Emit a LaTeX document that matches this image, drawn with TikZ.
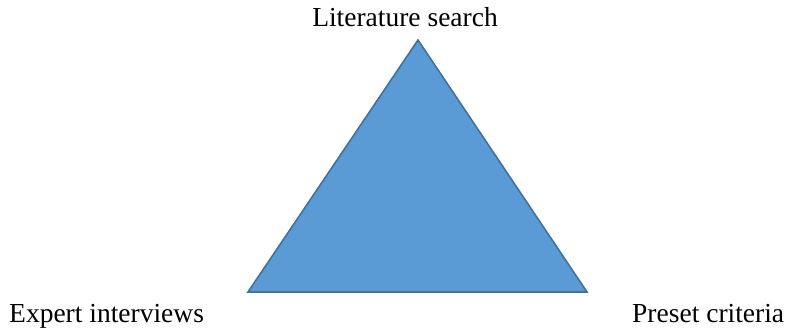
\documentclass[tikz,border=0pt]{standalone}
\usepackage{fontspec}
\setmainfont{Liberation Serif}
\definecolor{trifill}{HTML}{5B9BD5}
\definecolor{triline}{HTML}{41719C}
\begin{document}
\begin{tikzpicture}[x=1pt,y=-1pt,
  lbl/.style={inner sep=0pt,font=\fontsize{27.5}{33}\selectfont}]
\useasboundingbox (0,0) rectangle (785,329);
\coordinate (apex) at (418,40);
\coordinate (bl) at (248,292);
\coordinate (br) at (587,292);
\filldraw[fill=trifill,draw=triline,line width=1.6pt,line join=miter] (apex) -- (bl) -- (br) -- cycle;
\node[lbl,anchor=base] (lit) at (405,27) {Literature search};
\node[lbl,anchor=base west] (exp) at (9,322) {Expert interviews};
\node[lbl,anchor=base west] (pre) at (632,322) {Preset criteria};
\end{tikzpicture}
\end{document}
